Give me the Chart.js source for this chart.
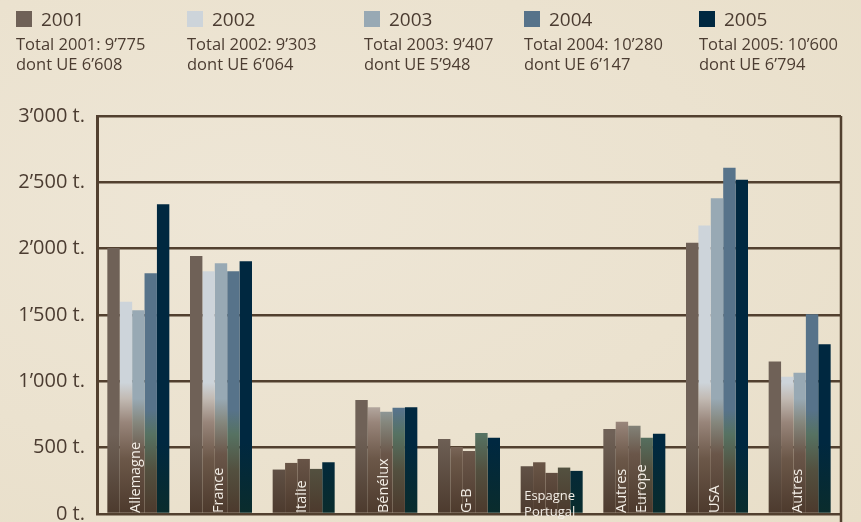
<!DOCTYPE html>
<html>
<head>
<meta charset="utf-8">
<script src="https://cdn.jsdelivr.net/npm/chart.js@4"></script>
<style>
  html, body { margin: 0; padding: 0; }
  body {
    width: 861px; height: 522px; overflow: hidden; position: relative;
    background: radial-gradient(ellipse at 30% 40%, #eee6d6 0%, #ebe2cf 55%, #e8dec8 100%);
    font-family: "Open Sans", sans-serif; color: #4b3c31;
  }
  #chart { position: absolute; left: 0; top: 0; }
  .leg { position: absolute; top: 4px; white-space: nowrap; }
  .leg .yr { height: 30px; line-height: 30px; font-size: 19px; display: flex; align-items: center; }
  .leg .sw { width: 16px; height: 16px; margin-right: 9px; display: inline-block; }
  .leg .ln { font-size: 16.5px; line-height: 20px; }
</style>
</head>
<body>
<canvas id="chart" width="861" height="522"></canvas>
<div id="legend"></div>
<script>
// Data (tonnes)
const categories = ["Allemagne", "France", "Italie", "Bénélux", "G-B", "Espagne Portugal", "Autres Europe", "USA", "Autres"];
const years = ["2001", "2002", "2003", "2004", "2005"];
const values2001 = [2005, 1945, 335, 860, 565, 360, 640, 2045, 1150];
const values2002 = [1600, 1830, 385, 805, 505, 390, 695, 2175, 1035];
const values2003 = [1535, 1890, 415, 770, 475, 310, 665, 2380, 1065];
const values2004 = [1815, 1830, 340, 800, 610, 350, 575, 2610, 1505];
const values2005 = [2335, 1905, 390, 805, 575, 325, 605, 2520, 1280];
const totals = ["9’775", "9’303", "9’407", "10’280", "10’600"];
const totalsUE = ["6’608", "6’064", "5’948", "6’147", "6’794"];
const yTicks = [0, 500, 1000, 1500, 2000, 2500, 3000];

const colors = ["#6f6157", "#cdd4da", "#98a9b4", "#57738a", "#002840"];
const legendLeft = [16, 187, 364, 524, 699];

// HTML legend
const legend = document.getElementById("legend");
years.forEach((y, i) => {
  const d = document.createElement("div");
  d.className = "leg";
  d.style.left = legendLeft[i] + "px";
  d.innerHTML =
    '<div class="yr"><span class="sw" style="background:' + colors[i] + '"></span>' + y + "</div>" +
    '<div class="ln">Total ' + y + ": " + totals[i] + "</div>" +
    '<div class="ln">dont UE ' + totalsUE[i] + "</div>";
  legend.appendChild(d);
});

// bottom of the bars fades into an earthy brown
const fades = [
  [[0, "#6f6157"], [0.80, "#6f6157"], [0.92, "#5a4a3e"], [1, "#4c3a2d"]],
  [[0, "#cdd4da"], [0.67, "#cdd4da"], [0.71, "#c2bab3"], [0.77, "#98857a"], [0.86, "#6c5849"], [1, "#4c392c"]],
  [[0, "#98a9b4"], [0.71, "#98a9b4"], [0.77, "#85877d"], [0.85, "#6a5649"], [1, "#4c392c"]],
  [[0, "#57738a"], [0.74, "#57738a"], [0.80, "#567262"], [0.89, "#53503f"], [1, "#4c392c"]],
  [[0, "#002840"], [0.82, "#002840"], [1, "#0a2c2c"]]
];

function barFill(i) {
  return function (ctx) {
    const area = ctx.chart.chartArea;
    if (!area) return colors[i];
    const g = ctx.chart.ctx.createLinearGradient(0, area.top, 0, area.bottom);
    fades[i].forEach(s => g.addColorStop(s[0], s[1]));
    return g;
  };
}

function fmt(v) {
  if (v >= 1000) return Math.floor(v / 1000) + "’" + String(v % 1000).padStart(3, "0") + " t.";
  return v + " t.";
}

const seriesValues = [values2001, values2002, values2003, values2004, values2005];

// category names written inside the bars, plus right frame line
const barLabels = {
  id: "barLabels",
  afterDatasetsDraw(chart) {
    const c = chart.ctx;
    const area = chart.chartArea;
    const x = chart.scales.x;
    c.save();
    c.strokeStyle = "#52402f";
    c.lineWidth = 2.5;
    c.beginPath();
    c.moveTo(area.right, area.top);
    c.lineTo(area.right, area.bottom + 10);
    c.stroke();
    c.fillStyle = "#f3eee6";
    categories.forEach((name, i) => {
      const cx = x.getPixelForValue(i) - 2;
      const bottom = area.bottom - 1;
      if (name === "Espagne Portugal") {
        c.font = "13px 'Open Sans'";
        c.textAlign = "center";
        c.textBaseline = "middle";
        c.fillText("Espagne", cx, bottom - 17);
        c.fillText("Portugal", cx, bottom - 1);
        return;
      }
      const lines = name === "Autres Europe" ? ["Autres", "Europe"] : [name];
      c.font = "14.5px 'Open Sans'";
      c.textAlign = "left";
      c.textBaseline = "middle";
      lines.forEach((t, k) => {
        const lx = cx + (k - (lines.length - 1) / 2) * 20;
        c.save();
        c.translate(lx, bottom);
        c.rotate(-Math.PI / 2);
        c.fillText(t, 0, 0);
        c.restore();
      });
    });
    c.restore();
  }
};

new Chart(document.getElementById("chart"), {
  type: "bar",
  data: {
    labels: categories,
    datasets: years.map((y, i) => ({
      label: y,
      data: seriesValues[i],
      backgroundColor: barFill(i),
      borderWidth: 0,
      barPercentage: 1,
      categoryPercentage: 0.75
    }))
  },
  options: {
    responsive: false,
    animation: false,
    layout: { padding: { top: 116, right: 20, bottom: 8, left: 0 } },
    plugins: { legend: { display: false }, tooltip: { enabled: false } },
    scales: {
      x: {
        display: false
      },
      y: {
        min: 0,
        max: 3000,
        afterBuildTicks: axis => { axis.ticks = yTicks.map(v => ({ value: v })); },
        afterFit: axis => { axis.width = 97; axis.paddingTop = 0; axis.paddingBottom = 0; },
        ticks: {
          padding: 12,
          color: "#4b3c31",
          font: { family: "Open Sans", size: 20 },
          callback: v => fmt(v)
        },
        grid: { color: "#52402f", lineWidth: 2.5, drawTicks: false },
        border: { display: true, color: "#52402f", width: 3 }
      }
    }
  },
  plugins: [barLabels]
});
</script>
</body>
</html>
